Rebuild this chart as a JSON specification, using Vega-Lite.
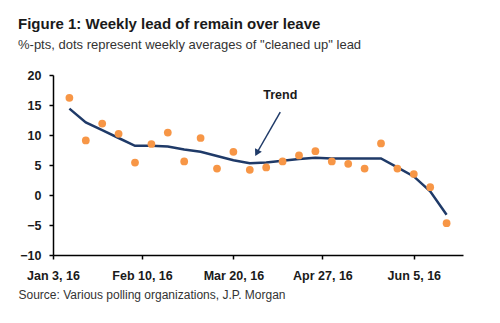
{
  "$schema": "https://vega.github.io/schema/vega-lite/v6.json",
  "autosize": "none",
  "width": 410,
  "height": 180,
  "padding": {"left": 53, "top": 75, "right": 37, "bottom": 68},
  "background": "white",
  "config": {
    "view": {"stroke": null},
    "font": "Liberation Sans",
    "axisY": {"tickCount": 7, "labelOverlap": false}
  },
  "title": {
    "text": "Figure 1: Weekly lead of remain over leave",
    "subtitle": "%-pts, dots represent weekly averages of \"cleaned up\" lead",
    "anchor": "start",
    "frame": "group",
    "dx": -35,
    "offset": 17,
    "font": "Liberation Sans",
    "fontSize": 15,
    "fontWeight": "bold",
    "color": "#1a1a1a",
    "subtitleFont": "Liberation Sans",
    "subtitleFontSize": 13,
    "subtitleColor": "#333333",
    "subtitlePadding": 7
  },
  "datasets": {
    "weekly": [
      {"date": "2016/01/10", "lead": 16.2, "trend": 14.4},
      {"date": "2016/01/17", "lead": 9.1, "trend": 12.1},
      {"date": "2016/01/24", "lead": 11.9, "trend": 10.8},
      {"date": "2016/01/31", "lead": 10.2, "trend": 9.5},
      {"date": "2016/02/07", "lead": 5.4, "trend": 8.2},
      {"date": "2016/02/14", "lead": 8.5, "trend": 8.2},
      {"date": "2016/02/21", "lead": 10.4, "trend": 8.1},
      {"date": "2016/02/28", "lead": 5.6, "trend": 7.6},
      {"date": "2016/03/06", "lead": 9.5, "trend": 7.2},
      {"date": "2016/03/13", "lead": 4.4, "trend": 6.5},
      {"date": "2016/03/20", "lead": 7.2, "trend": 5.8},
      {"date": "2016/03/27", "lead": 4.2, "trend": 5.3},
      {"date": "2016/04/03", "lead": 4.6, "trend": 5.4},
      {"date": "2016/04/10", "lead": 5.6, "trend": 5.7},
      {"date": "2016/04/17", "lead": 6.6, "trend": 6.0},
      {"date": "2016/04/24", "lead": 7.3, "trend": 6.2},
      {"date": "2016/05/01", "lead": 5.6, "trend": 6.1},
      {"date": "2016/05/08", "lead": 5.2, "trend": 6.1},
      {"date": "2016/05/15", "lead": 4.4, "trend": 6.1},
      {"date": "2016/05/22", "lead": 8.6, "trend": 6.1},
      {"date": "2016/05/29", "lead": 4.4, "trend": 4.6},
      {"date": "2016/06/05", "lead": 3.5, "trend": 3.1},
      {"date": "2016/06/12", "lead": 1.3, "trend": 0.6},
      {"date": "2016/06/19", "lead": -4.7, "trend": -3.3}
    ],
    "note": [
      {"label": "Trend", "text_date": "2016/04/09", "text_val": 16.6, "from_date": "2016/04/09", "from_val": 13.8, "to_date": "2016/03/30", "to_val": 7.0}
    ]
  },
  "layer": [
    {
      "data": {"name": "weekly"},
      "mark": {"type": "line", "color": "#1F3A68", "strokeWidth": 2.5},
      "encoding": {
        "x": {
          "field": "date",
          "type": "temporal",
          "scale": {"domain": [{"year": 2016, "month": 1, "date": 3}, {"year": 2016, "month": 6, "date": 26}]},
          "axis": {
            "values": [
              {"year": 2016, "month": 1, "date": 3},
              {"year": 2016, "month": 2, "date": 10},
              {"year": 2016, "month": 3, "date": 20},
              {"year": 2016, "month": 4, "date": 27},
              {"year": 2016, "month": 6, "date": 5}
            ],
            "format": "%b %-d, %y",
            "grid": false,
            "domainColor": "#000000",
            "domainWidth": 1.5,
            "tickColor": "#000000",
            "tickWidth": 1.5,
            "tickSize": 4,
            "labelFont": "Liberation Sans",
            "labelFontSize": 12.5,
            "labelFontWeight": "bold",
            "labelColor": "#1a1a1a",
            "labelPadding": 10,
            "labelFlush": false,
            "labelOverlap": false,
            "title": "Source: Various polling organizations, J.P. Morgan",
            "titleFont": "Liberation Sans",
            "titleFontSize": 12,
            "titleFontWeight": "normal",
            "titleColor": "#333333",
            "titleAnchor": "start",
            "titleAlign": "left",
            "titleX": -35,
            "titleY": 34
          }
        },
        "y": {
          "field": "trend",
          "type": "quantitative",
          "scale": {"domain": [-10, 20], "nice": false},
          "axis": {
            "values": [-10, -5, 0, 5, 10, 15, 20],
            "tickCount": 7,
            "labelOverlap": false,
            "grid": false,
            "title": null,
            "domainColor": "#000000",
            "domainWidth": 1.5,
            "tickColor": "#000000",
            "tickWidth": 1.5,
            "tickSize": 4,
            "labelFont": "Liberation Sans",
            "labelFontSize": 12.5,
            "labelFontWeight": "bold",
            "labelColor": "#1a1a1a",
            "labelPadding": 8
          }
        }
      }
    },
    {
      "data": {"name": "weekly"},
      "mark": {"type": "circle", "color": "#F79646", "size": 60, "opacity": 1},
      "encoding": {
        "x": {"field": "date", "type": "temporal"},
        "y": {"field": "lead", "type": "quantitative"}
      }
    },
    {
      "data": {"name": "note"},
      "mark": {"type": "rule", "color": "#1F3A68", "strokeWidth": 1.5},
      "encoding": {
        "x": {"field": "from_date", "type": "temporal"},
        "x2": {"field": "to_date"},
        "y": {"field": "from_val", "type": "quantitative"},
        "y2": {"field": "to_val"}
      }
    },
    {
      "data": {"name": "note"},
      "mark": {"type": "point", "shape": "triangle-down", "filled": true, "color": "#1F3A68", "size": 60, "angle": 28, "opacity": 1},
      "encoding": {
        "x": {"field": "to_date", "type": "temporal"},
        "y": {"field": "to_val", "type": "quantitative"}
      }
    },
    {
      "data": {"name": "note"},
      "mark": {"type": "text", "font": "Liberation Sans", "fontSize": 12.5, "fontWeight": "bold", "color": "#1a1a1a"},
      "encoding": {
        "x": {"field": "text_date", "type": "temporal"},
        "y": {"field": "text_val", "type": "quantitative"},
        "text": {"field": "label"}
      }
    }
  ]
}
